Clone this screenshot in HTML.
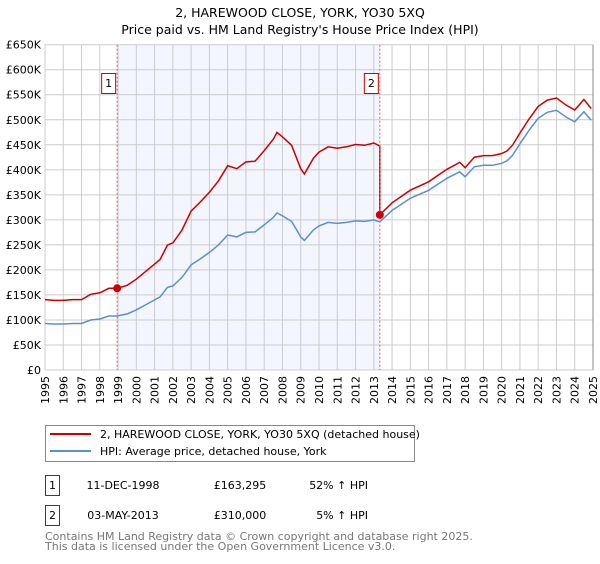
<!DOCTYPE html>
<html><head><meta charset="utf-8"><style>
body{margin:0;background:#fff;font-family:"DejaVu Sans","Liberation Sans",sans-serif;}
</style></head><body>
<svg width="600" height="560" xmlns="http://www.w3.org/2000/svg" font-family="DejaVu Sans, Liberation Sans, sans-serif">
<text x="300" y="17" font-size="12.5" text-anchor="middle">2, HAREWOOD CLOSE, YORK, YO30 5XQ</text>
<text x="300" y="34" font-size="12.5" text-anchor="middle">Price paid vs. HM Land Registry's House Price Index (HPI)</text>
<g id="plot"></g>
<g>
<rect x="45.5" y="425.5" width="369" height="36" fill="#fff" stroke="#888"/>
<line x1="50" y1="434" x2="91" y2="434" stroke="#cc0000" stroke-width="2"/>
<text x="100" y="438" font-size="11">2, HAREWOOD CLOSE, YORK, YO30 5XQ (detached house)</text>
<line x1="50" y1="451" x2="91" y2="451" stroke="#5b8fd0" stroke-width="2"/>
<text x="100" y="455" font-size="11">HPI: Average price, detached house, York</text>
</g>
<g font-size="11">
<rect x="45.5" y="475.5" width="14" height="20" fill="#fff" stroke="#cc0000"/>
<text x="52.5" y="489" text-anchor="middle">1</text>
<text x="123" y="489" text-anchor="middle">11-DEC-1998</text>
<text x="240" y="489" text-anchor="middle">£163,295</text>
<text x="368" y="489" text-anchor="end">52% ↑ HPI</text>
<rect x="45.5" y="505.5" width="14" height="20" fill="#fff" stroke="#cc0000"/>
<text x="52.5" y="519" text-anchor="middle">2</text>
<text x="123" y="519" text-anchor="middle">03-MAY-2013</text>
<text x="240" y="519" text-anchor="middle">£310,000</text>
<text x="368" y="519" text-anchor="end">5% ↑ HPI</text>
</g>
<text x="45" y="540" font-size="11" fill="#777">Contains HM Land Registry data © Crown copyright and database right 2025.</text>
<text x="45" y="550" font-size="11" fill="#777">This data is licensed under the Open Government Licence v3.0.</text>
</svg>
<script>
const hpiYears=[1995,1995.5,1996,1996.5,1997,1997.5,1998,1998.5,1998.95,1999.5,2000,2000.5,2001,2001.3,2001.7,2002,2002.5,2003,2003.5,2004,2004.5,2005,2005.5,2006,2006.5,2007,2007.5,2007.7,2008,2008.5,2009,2009.2,2009.7,2010,2010.5,2011,2011.5,2012,2012.5,2013,2013.33,2014,2015,2016,2017,2017.7,2018,2018.5,2019,2019.5,2020,2020.3,2020.6,2021,2021.5,2022,2022.5,2023,2023.5,2024,2024.5,2024.9];
const hpiValues=[93,92,92,93,93,100,102,108,108,112,120,130,140,146,165,168,185,210,222,235,250,270,266,275,276,290,305,314,308,297,266,259,280,288,295,293,295,298,297,300,296,319,343,359,383,396,386,406,409,409,413,418,429,452,479,503,515,519,506,496,516,499];
const saleYears=[1998.95,2013.33];
const salePrices=[163.295,310];
const yTicks=[0,50,100,150,200,250,300,350,400,450,500,550,600,650];
const xTicks=[1995,1996,1997,1998,1999,2000,2001,2002,2003,2004,2005,2006,2007,2008,2009,2010,2011,2012,2013,2014,2015,2016,2017,2018,2019,2020,2021,2022,2023,2024,2025];
const X0=45,X1=593,Y0=370,Y1=44.7;
const xs=y=>X0+(y-1995)/30*(X1-X0);
const ys=v=>Y0-v/650*(Y0-Y1);
const NS="http://www.w3.org/2000/svg";
const g=document.getElementById('plot');
function mk(t,a){const e=document.createElementNS(NS,t);for(const k in a)e.setAttribute(k,a[k]);g.appendChild(e);return e;}
let e=mk('rect',{x:xs(saleYears[0]),y:Y1,width:xs(saleYears[1])-xs(saleYears[0]),height:Y0-Y1,fill:'#f3f6fe'});


yTicks.forEach(v=>{
 let l=mk('line',{x1:X0,x2:X1,y1:ys(v),y2:ys(v),stroke:'#cccccc'});
 
 
 let t=mk('text',{x:X0-4,y:ys(v)+4,'font-size':11,'text-anchor':'end'});
 t.textContent=v===0?'£0':'£'+v+'K';
 
 
});
xTicks.forEach(y=>{
 let l=mk('line',{x1:xs(y),x2:xs(y),y1:Y1,y2:Y0,stroke:'#cccccc'});
 
 
 let t=mk('text',{x:0,y:0,'font-size':11,'text-anchor':'end',transform:`translate(${xs(y)+4},${Y0+6}) rotate(-90)`});
 t.textContent=y;
 
 
});
let ax=mk('line',{x1:X1,x2:X1,y1:Y1,y2:Y0,stroke:'#888'});


function hpiAt(t){for(let i=0;i<hpiYears.length-1;i++){if(t<=hpiYears[i+1]){const f=(t-hpiYears[i])/(hpiYears[i+1]-hpiYears[i]);return hpiValues[i]+f*(hpiValues[i+1]-hpiValues[i]);}}return hpiValues[hpiValues.length-1];}
const r1=salePrices[0]/hpiAt(saleYears[0]),r2=salePrices[1]/hpiAt(saleYears[1]);
let hp='',rp='';
hpiYears.forEach((t,i)=>{
 hp+=(i?'L':'M')+xs(t).toFixed(1)+','+ys(hpiValues[i]).toFixed(1);
});
hpiYears.forEach((t,i)=>{
 if(t<saleYears[1]) rp+=(i?'L':'M')+xs(t).toFixed(1)+','+ys(hpiValues[i]*r1).toFixed(1);
});
rp+='L'+xs(saleYears[1]).toFixed(1)+','+ys(hpiAt(saleYears[1])*r1).toFixed(1);
rp+='L'+xs(saleYears[1]).toFixed(1)+','+ys(salePrices[1]).toFixed(1);
hpiYears.forEach((t,i)=>{
 if(t>saleYears[1]) rp+='L'+xs(t).toFixed(1)+','+ys(hpiValues[i]*r2).toFixed(1);
});
let hl=mk('path',{d:hp,fill:'none',stroke:'#5b8fd0','stroke-width':1.5});


let rl=mk('path',{d:rp,fill:'none',stroke:'#cc0000','stroke-width':1.5});


saleYears.forEach((t,i)=>{
 let d=mk('line',{x1:xs(t),x2:xs(t),y1:Y1,y2:Y0,stroke:'#e06666','stroke-dasharray':'2,2'});
 
 
 let c=mk('circle',{cx:xs(t),cy:ys(salePrices[i]),r:4,fill:'#cc0000'});
 
 
 let b=mk('rect',{x:xs(t)-15.5,y:73.5,width:14,height:20,fill:'#fff',stroke:'#cc0000'});
 
 
 let bt=mk('text',{x:xs(t)-8.5,y:87,'font-size':11,'text-anchor':'middle'});
 bt.textContent=String(i+1);
 
 
});
</script>
</body></html>
